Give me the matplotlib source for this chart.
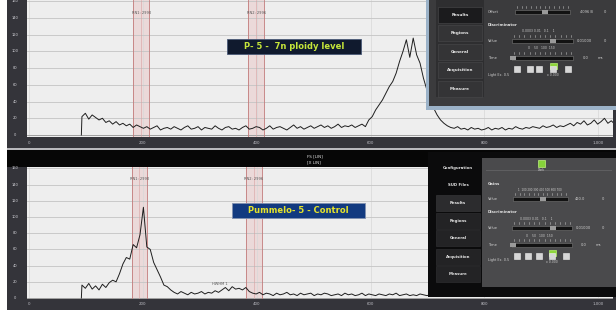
import numpy as np
import matplotlib
matplotlib.use("Agg")
import matplotlib.pyplot as plt
from matplotlib.patches import Rectangle

# ---------------- data ----------------
channel_start = 93
channel_step = 6

top_counts = [
    22, 26, 19, 24, 21, 18, 20, 15, 17, 13, 16, 12, 14, 11, 13, 9, 12, 10,
    8, 10, 7, 9, 11, 6, 8, 9, 7, 10, 8, 6, 9, 11, 7, 8, 10, 6, 9, 8,
    7, 11, 8, 6, 9, 10, 7, 8, 6, 9, 11, 7, 8, 10, 9, 6, 8, 11, 7, 9,
    10, 8, 6, 9, 12, 8, 10, 7, 9, 11, 8, 10, 12, 9, 11, 8, 10, 13, 9, 11,
    10, 12, 9, 11, 13, 10,
    18, 22, 30, 36, 42, 50, 58, 64, 74, 88, 100, 114, 93, 116, 96, 86, 68,
    54, 44, 32, 24, 18, 14, 11,
    9, 8, 10, 7, 8, 6, 9, 7, 8, 6, 7, 9, 6, 8, 7, 9, 6, 8, 7, 10, 8, 7,
    9, 8, 10, 9, 8, 11, 9, 10, 12, 9, 11, 10,
    12, 14, 11, 15, 13, 17, 12, 14, 18, 13, 16, 20, 14, 17, 13, 16,
]

bottom_counts = [
    16, 12, 18, 11, 15, 10, 17, 13, 19,
    22, 20, 30, 42, 50, 48, 66, 62, 78, 112, 63, 60, 44, 35, 26, 16, 14,
    10, 7, 5, 8, 6, 4, 7, 5, 6, 8, 5, 7, 6, 9, 7,
    10, 13, 9, 14, 11, 12, 10, 13, 8,
    6, 5, 7, 4, 6, 5, 3, 6, 4, 5, 7, 4, 5, 3, 6, 4, 5, 6, 3, 5, 4, 6, 5,
    3, 4, 5, 3, 6, 4, 5, 3, 4, 6, 3, 5, 4, 3, 5, 4, 3, 5, 4, 6, 3, 4,
    5, 3, 4, 3, 5, 4, 3, 4, 5, 3, 4, 3, 5, 4, 3, 4, 3, 5, 4, 3, 4, 3, 4,
    5, 3, 4, 3, 4, 3, 5, 4, 3, 4, 3, 4, 3, 4, 5, 3, 4, 3, 4, 3, 4, 3, 4,
    3, 4, 3, 4, 3,
]

x_ticks = [0, 200, 400, 600, 800, 1000]
x_tick_labels = ["0", "200", "400", "600", "800", "1,000"]
y_ticks = [0, 20, 40, 60, 80, 100, 120, 140, 160]
y_tick_labels = ["0", "20", "40", "60", "80", "100", "120", "140", "160"]

top_region_lo = [183, 385]
top_region_hi = [211, 413]
bottom_region_lo = [181, 381]
bottom_region_hi = [207, 409]
region_names = ["RN1: 2990", "RN2: 2996"]

top_title = "P- 5 -  7n ploidy level"
bottom_title = "Pummelo- 5 - Control"

# ---------------- figure ----------------
W, H = 616, 314
fig = plt.figure(figsize=(W / 100, H / 100), dpi=100)
fig.patch.set_facecolor("white")


def frac(x, y, w, h):
    return [x / W, 1 - (y + h) / H, w / W, h / H]


# background frame / dark strips
bg = fig.add_axes([0, 0, 1, 1], zorder=0)
bg.set_xlim(0, W)
bg.set_ylim(H, 0)
bg.axis("off")
bg.add_patch(Rectangle((7, 0), W - 7, 148, color="#34343a", lw=0))
bg.add_patch(Rectangle((7, 148), W - 7, 2, color="#b8b8bc", lw=0))
bg.add_patch(Rectangle((7, 150), W - 7, 160, color="#34343a", lw=0))
bg.add_patch(Rectangle((7, 150), W - 7, 17, color="#060606", lw=0))
bg.text(307, 156, "FS [LIN]", color="#e0e0e0", fontsize=3, va="center", ha="left")
bg.text(307, 162, "[X LIN]", color="#e0e0e0", fontsize=3, va="center", ha="left")


def make_panel(rect, counts, ylim, lo, hi, extra_label=None):
    ax = fig.add_axes(frac(*rect), zorder=2)
    ax.set_facecolor("#eeeeee")
    ch = channel_start + channel_step * np.arange(len(counts))
    xs = np.concatenate([[ch[0] - 1], ch])
    ys = np.concatenate([[0], counts])
    ax.plot(xs, ys, color="#1e1e1e", lw=0.7, zorder=3)
    ax.set_xlim(-3.5, 1026)
    ax.set_ylim(*ylim)
    ax.set_yticks(y_ticks)
    ax.set_xticks(x_ticks)
    ax.grid(axis="y", color="#c4c4c4", lw=0.6)
    ax.grid(axis="x", color="#d8d8d8", lw=0.5)
    ax.tick_params(length=0, labelleft=False, labelbottom=False)
    for s in ax.spines.values():
        s.set_visible(False)
    ax.axhline(0, color="#9a9a9a", lw=0.6, zorder=2)
    for l, h, nm in zip(lo, hi, region_names):
        ax.axvspan(l, h, color="#e9c9c9", alpha=0.55, lw=0, zorder=1)
        ax.axvline(l, color="#c27a7a", lw=0.6, zorder=2)
        ax.axvline(h, color="#c27a7a", lw=0.6, zorder=2)
        ax.axvline((l + h) / 2, color="#d8a0a0", lw=0.4, zorder=2)
        ax.text((l + h) / 2, ylim[1] * 0.905, nm, fontsize=2.6, color="#555555",
                ha="center", va="center", zorder=4)
    if extra_label:
        ax.text(*extra_label[0], extra_label[1], fontsize=2.6, color="#555555",
                ha="center", va="center", zorder=4)
    return ax


ax_top = make_panel((27, 0, 586, 137), top_counts, (-2.4, 161.6),
                    top_region_lo, top_region_hi)
ax_bot = make_panel((27, 167, 586, 132), bottom_counts, (-1.2, 161.7),
                    bottom_region_lo, bottom_region_hi,
                    extra_label=((335, 17), "HWHM 1"))

# overlay in pixel coordinates
ov = fig.add_axes([0, 0, 1, 1], zorder=10)
ov.set_xlim(0, W)
ov.set_ylim(H, 0)
ov.axis("off")
ov.patch.set_alpha(0)


def ch2px(c):
    return 29 + 0.569 * c


for t, lab in zip(x_ticks, x_tick_labels):
    ov.text(ch2px(t), 142.5, lab, color="#bdbdc4", fontsize=2.8, ha="center", va="center")
    ov.text(ch2px(t), 304, lab, color="#bdbdc4", fontsize=2.8, ha="center", va="center")
for t, lab in zip(y_ticks, y_tick_labels):
    ov.text(15, 135 - t / 20 * 16.7, lab, color="#d0d0d6", fontsize=2.6, ha="center", va="center")
    ov.text(15, 298 - t / 20 * 16.2, lab, color="#d0d0d6", fontsize=2.6, ha="center", va="center")

# title boxes
ov.add_patch(Rectangle((227, 39), 134, 15, fc="#101a2e", ec="#4a5a78", lw=0.6))
ov.text(294, 46.5, top_title, color="#c6e63a", fontsize=6, fontweight="bold",
        ha="center", va="center")
ov.add_patch(Rectangle((232, 203), 133, 15, fc="#123a80", ec="#8090b0", lw=0.6))
ov.text(298.5, 210.5, bottom_title, color="#e6e42a", fontsize=6, fontweight="bold",
        ha="center", va="center")


def slider(x0, x1, y, knob):
    ov.add_patch(Rectangle((x0, y - 2.2), x1 - x0, 4.4, fc="#121212", ec="#777777", lw=0.4))
    ov.add_patch(Rectangle((x0 + knob * (x1 - x0) - 3, y - 2.2), 6, 4.4, fc="#9a9a9a", lw=0))
    for k in range(12):
        xx = x0 + 2 + k * (x1 - x0 - 4) / 11
        ov.plot([xx, xx], [y - 6, y - 4], color="#bbbbbb", lw=0.4)


def checkboxes(y, xs, green_idx):
    for i, xx in enumerate(xs):
        if i == green_idx:
            ov.add_patch(Rectangle((xx - 3.5, y - 6.5), 7, 6, fc="#8ed63a", ec="#b8f070", lw=0.5))
        ov.add_patch(Rectangle((xx - 2.6, y - 2.6), 5.2, 5.2, fc="#d6d6d6", ec="#f0f0f0", lw=0.4))


# ----- top overlay panel -----
ov.add_patch(Rectangle((426, -3), 193, 113, fc="#9bb2c8", lw=0))
ov.add_patch(Rectangle((429, -3), 190, 109, fc="#3b3b3d", lw=0))
ov.add_patch(Rectangle((436, -3), 48, 100, fc="#2e2e30", lw=0))
top_menu = ["Results", "Regions", "General", "Acquisition", "Measure"]
for i, (nm, yy) in enumerate(zip(top_menu, [15, 33, 52, 70, 89])):
    fc = "#1b1b1d" if i == 0 else "#343436"
    ov.add_patch(Rectangle((438, yy - 8), 44, 16, fc=fc, ec="#4a4a4c", lw=0.4))
    ov.text(460, yy, nm, color="#e8e8e8", fontsize=3, ha="center", va="center",
            fontweight="bold")
ov.text(488, 12, "Offset", color="#cfcfcf", fontsize=2.6, va="center")
slider(515, 570, 12, 0.55)
ov.text(580, 12, "4096 B", color="#cfcfcf", fontsize=2.6, va="center")
ov.text(604, 12, "0", color="#cfcfcf", fontsize=2.6, va="center")
ov.text(488, 25, "Discriminator", color="#e0e0e0", fontsize=2.8, va="center", fontweight="bold")
ov.text(522, 31, "0.0003 0.01   0.1    1", color="#cfcfcf", fontsize=2.2, va="center")
ov.text(488, 41, "Value", color="#cfcfcf", fontsize=2.6, va="center")
slider(512, 573, 41, 0.68)
ov.text(577, 41, "0.01000", color="#cfcfcf", fontsize=2.6, va="center")
ov.text(604, 41, "0", color="#cfcfcf", fontsize=2.6, va="center")
ov.text(528, 48, "0    50   100  150", color="#cfcfcf", fontsize=2.2, va="center")
ov.text(488, 58, "Time", color="#cfcfcf", fontsize=2.6, va="center")
slider(512, 573, 58, 0.02)
ov.text(583, 58, "0.0", color="#cfcfcf", fontsize=2.6, va="center")
ov.text(598, 58, "ms", color="#cfcfcf", fontsize=2.6, va="center")
ov.text(488, 75, "Light Ex. 0.5", color="#cfcfcf", fontsize=2.4, va="center")
checkboxes(69, [517, 530, 539, 553, 568], 3)
ov.text(553, 75.5, "x 0.000", color="#cfcfcf", fontsize=2.2, ha="center", va="center")

# ----- bottom overlay panel -----
ov.add_patch(Rectangle((428, 152), 190, 145, fc="#0b0b0c", lw=0))
ov.add_patch(Rectangle((482, 158), 134, 129, fc="#4a4a4c", lw=0))
ov.add_patch(Rectangle((486, 170), 126, 1, fc="#5e5e60", lw=0))
bot_menu = ["Configuration", "SUD Files", "Results", "Regions", "General",
            "Acquisition", "Measure"]
for i, (nm, yy) in enumerate(zip(bot_menu, [168, 185, 203, 221, 238, 257, 274])):
    if i == 2:
        ov.add_patch(Rectangle((436, yy - 8), 44, 16, fc="#2c2c2e", ec="#3c3c3e", lw=0.4))
    elif i >= 3:
        ov.add_patch(Rectangle((436, yy - 8), 44, 16, fc="#232325", ec="#333335", lw=0.4))
    ov.text(458, yy, nm, color="#e4e4e4", fontsize=2.8, ha="center", va="center",
            fontweight="bold")
ov.add_patch(Rectangle((538, 160), 7, 7, fc="#86d23a", ec="#c0f080", lw=0.5))
ov.text(541.5, 170, "Dark", color="#cfcfcf", fontsize=2.2, ha="center", va="center")
ov.text(488, 184, "Gains", color="#e0e0e0", fontsize=2.8, va="center", fontweight="bold")
ov.text(518, 190, "1  100 200 300 400 500 600 700", color="#cfcfcf", fontsize=2.0, va="center")
ov.text(488, 199, "Value", color="#cfcfcf", fontsize=2.6, va="center")
slider(513, 568, 199, 0.55)
ov.text(575, 199, "420.0", color="#cfcfcf", fontsize=2.6, va="center")
ov.text(602, 199, "0", color="#cfcfcf", fontsize=2.6, va="center")
ov.text(488, 212, "Discriminator", color="#e0e0e0", fontsize=2.8, va="center", fontweight="bold")
ov.text(520, 219, "0.0003 0.01   0.1    1", color="#cfcfcf", fontsize=2.2, va="center")
ov.text(488, 228, "Value", color="#cfcfcf", fontsize=2.6, va="center")
slider(512, 572, 228, 0.68)
ov.text(576, 228, "0.01000", color="#cfcfcf", fontsize=2.6, va="center")
ov.text(602, 228, "0", color="#cfcfcf", fontsize=2.6, va="center")
ov.text(526, 236, "0    50   100  150", color="#cfcfcf", fontsize=2.2, va="center")
ov.text(488, 245, "Time", color="#cfcfcf", fontsize=2.6, va="center")
slider(512, 572, 245, 0.02)
ov.text(581, 245, "0.0", color="#cfcfcf", fontsize=2.6, va="center")
ov.text(596, 245, "ms", color="#cfcfcf", fontsize=2.6, va="center")
ov.text(488, 260, "Light Ex. 0.5", color="#cfcfcf", fontsize=2.4, va="center")
checkboxes(256, [517, 528, 539, 552, 566], 3)
ov.text(552, 262, "x 0.000", color="#cfcfcf", fontsize=2.2, ha="center", va="center")

fig.savefig("out.png", dpi=100, facecolor=fig.get_facecolor())
